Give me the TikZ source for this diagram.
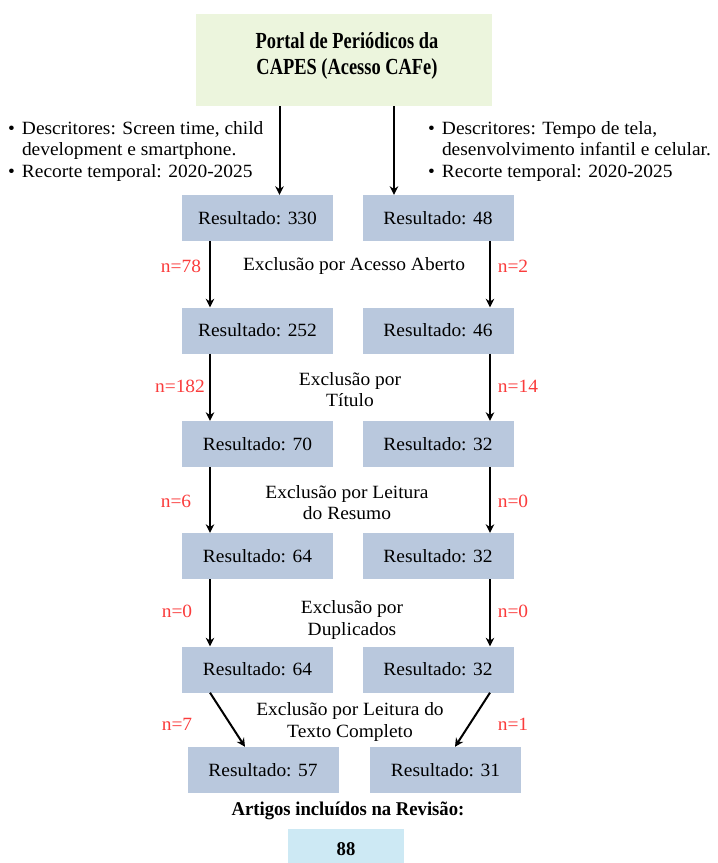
\documentclass[tikz,border=0pt]{standalone}
\usepackage{fontspec}
\usepackage{graphicx}
\setmainfont{Liberation Serif}[FakeStretch=1.04]
\usetikzlibrary{arrows.meta}
\definecolor{resblue}{RGB}{185,200,221}
\definecolor{topgreen}{RGB}{236,245,221}
\definecolor{finalblue}{RGB}{205,233,244}
\definecolor{nred}{RGB}{250,60,60}
\newcommand{\fsz}{\fontsize{18.7}{21.5}\selectfont}
\tikzset{
  res/.style={fill=resblue, minimum width=151pt, minimum height=46pt, inner sep=0pt, font=\fsz},
  lbl/.style={font=\fsz, align=center, inner sep=0pt},
  nlbl/.style={font=\fsz, text=nred, inner sep=0pt},
  arr/.style={line width=2pt, -{Stealth[length=8.5pt,width=8.5pt]}},
}
\begin{document}
\begin{tikzpicture}[x=1pt,y=-1pt]
\useasboundingbox (0,0) rectangle (718,863);
% top box
\node[fill=topgreen, minimum width=296pt, minimum height=92pt, inner sep=0pt] (top) at (344,60) {};
\node[inner sep=0pt] (toptxt) at (347,56)
 {\scalebox{0.77}[1]{\fontsize{23}{26.5}\selectfont\bfseries\begin{tabular}{@{}c@{}}Portal de Periódicos da\\CAPES (Acesso CAFe)\end{tabular}}};
% bullets
\node[anchor=north west, inner sep=0pt, font=\fsz] (bl) at (8,119)
 {\renewcommand{\arraystretch}{1.0}\begin{tabular}{@{}l@{\hspace{7pt}}l@{}}
 \textbullet & Descritores: Screen time, child\\
 & development e smartphone.\\
 \textbullet & Recorte temporal: 2020-2025
 \end{tabular}};
\node[anchor=north west, inner sep=0pt, font=\fsz] (br) at (428,119)
 {\renewcommand{\arraystretch}{1.0}\begin{tabular}{@{}l@{\hspace{7pt}}l@{}}
 \textbullet & Descritores: Tempo de tela,\\
 & desenvolvimento infantil e celular.\\
 \textbullet & Recorte temporal: 2020-2025
 \end{tabular}};
% result boxes
\node[res] (l1) at (257.5,218) {Resultado: 330};
\node[res] (r1) at (438,218) {Resultado: 48};
\node[res] (l2) at (257.5,330.5) {Resultado: 252};
\node[res] (r2) at (438,330.5) {Resultado: 46};
\node[res] (l3) at (257.5,444) {Resultado: 70};
\node[res] (r3) at (438,444) {Resultado: 32};
\node[res] (l4) at (257.5,556) {Resultado: 64};
\node[res] (r4) at (438,556) {Resultado: 32};
\node[res] (l5) at (257.5,669.5) {Resultado: 64};
\node[res] (r5) at (438,669.5) {Resultado: 32};
\node[res] (l6) at (263,770) {Resultado: 57};
\node[res] (r6) at (445.5,770) {Resultado: 31};
% final
\node[inner sep=0pt] (art) at (348,811) {\scalebox{0.92}[1]{\fontsize{19.5}{22}\selectfont\bfseries Artigos incluídos na Revisão:}};
\node[fill=finalblue, minimum width=116pt, minimum height=42pt, inner sep=0pt] (fin) at (346,850) {};
\node[inner sep=0pt] (fintxt) at (346,849) {\scalebox{0.92}[1]{\fontsize{19.5}{22}\selectfont\bfseries 88}};
% top arrows
\draw[arr] ([xshift=22pt]l1.north |- top.south) -- ([xshift=22pt]l1.north);
\draw[arr] ([xshift=-44pt]r1.north |- top.south) -- ([xshift=-44pt]r1.north);
% vertical arrows
\foreach \a/\b in {1/2,2/3,3/4,4/5}{
  \draw[arr] ([xshift=-47.5pt]l\a.south) -- ([xshift=-47.5pt]l\b.north);
  \draw[arr] ([xshift=52pt]r\a.south) -- ([xshift=52pt]r\b.north);
}
% diagonal arrows
\draw[arr] ([xshift=-47.5pt]l5.south) -- ([xshift=-18pt]l6.north);
\draw[arr] ([xshift=52pt]r5.south) -- ([xshift=9.5pt]r6.north);
% labels
\node[lbl] (e1) at (354,266) {Exclusão por Acesso Aberto};
\node[nlbl] (n1l) at (181,266) {n=78};
\node[nlbl] (n1r) at (513,266) {n=2};
\node[lbl] (e2) at (350,389.5) {Exclusão por\\Título};
\node[nlbl] (n2l) at (180,386) {n=182};
\node[nlbl] (n2r) at (518,386) {n=14};
\node[lbl] (e3) at (347,502.5) {Exclusão por Leitura\\do Resumo};
\node[nlbl] (n3l) at (176,501) {n=6};
\node[nlbl] (n3r) at (513,501) {n=0};
\node[lbl] (e4) at (352,620) {Exclusão por\\Duplicados};
\node[nlbl] (n4l) at (177,611) {n=0};
\node[nlbl] (n4r) at (513,611) {n=0};
\node[lbl] (e5) at (350,722) {Exclusão por Leitura do\\Texto Completo};
\node[nlbl] (n5l) at (177,724) {n=7};
\node[nlbl] (n5r) at (513,724) {n=1};
\end{tikzpicture}
\end{document}
